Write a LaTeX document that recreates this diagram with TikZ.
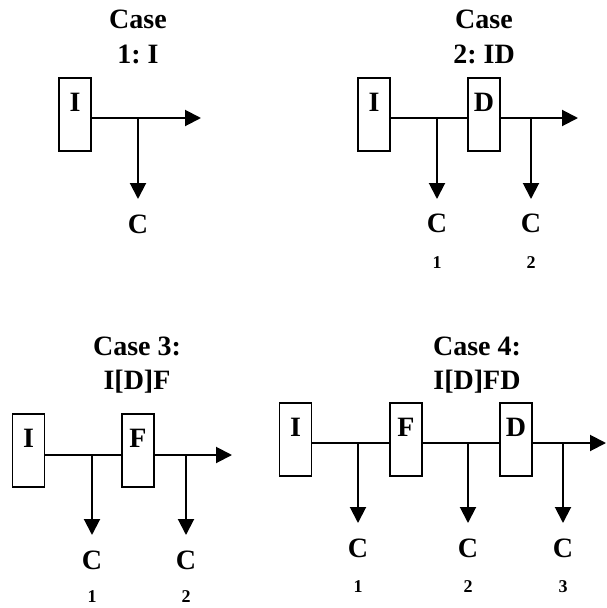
\documentclass[tikz,border=0pt]{standalone}
\usepackage{fontspec}
\setmainfont{Liberation Serif}
\frenchspacing
\usetikzlibrary{arrows.meta}
\begin{document}
\begin{tikzpicture}[x=1pt,y=-1pt,
  txt/.style={font=\fontsize{28}{34}\selectfont\bfseries, inner sep=0pt, anchor=base},
  sub/.style={font=\fontsize{18}{22}\selectfont\bfseries, inner sep=0pt, anchor=base},
  box/.style={draw, line width=1.3pt, minimum width=32pt, minimum height=73pt, inner sep=0pt, outer sep=0pt},
  boxlab/.style={font=\fontsize{28}{34}\selectfont\bfseries, inner sep=0pt, anchor=base, yshift=-33pt},
  flow/.style={line width=2pt},
  arr/.style={flow, -{Triangle[length=16pt,width=16pt]}}]
\path[use as bounding box, fill=white] (0,0) rectangle (606,608);

% ---------- Case 1 ----------
\node[txt] (t1a) at (138,28) {Case};
\node[txt] (t1b) at (138,63) {1: I};
\node[box, label={[boxlab]north:I}] (i1) at (75,114.5) {};
\coordinate (j1) at (138,118);
\coordinate (e1) at (201,118);
\coordinate (d1) at (138,199);
\node[txt] (c1) at (138,233) {C};
\draw[arr] (i1.east |- j1) -- (e1);
\draw[arr] (j1) -- (d1);

% ---------- Case 2 ----------
\node[txt] (t2a) at (484,28) {Case};
\node[txt] (t2b) at (484,63) {2: ID};
\node[box, label={[boxlab]north:I}] (i2) at (374,114.5) {};
\node[box, label={[boxlab]north:D}] (dd2) at (484,114.5) {};
\coordinate (j21) at (437,118);
\coordinate (j22) at (531,118);
\coordinate (e2) at (578,118);
\coordinate (d21) at (437,199);
\coordinate (d22) at (531,199);
\node[txt] (c21) at (437,232) {C};
\node[txt] (c22) at (531,232) {C};
\node[sub] (n21) at (437,268) {1};
\node[sub] (n22) at (531,268) {2};
\draw[flow] (i2.east |- j21) -- (dd2.west |- j21);
\draw[arr] (dd2.east |- j22) -- (e2);
\draw[arr] (j21) -- (d21);
\draw[arr] (j22) -- (d22);

% ---------- Case 3 ----------
\node[txt] (t3a) at (137,355) {Case 3:};
\node[txt] (t3b) at (137,389) {I[D]F};
\node[box, label={[boxlab]north:I}] (i3) at (28.5,450.5) {};
\node[box, label={[boxlab]north:F}] (f3) at (138,450.5) {};
\coordinate (j31) at (92,455);
\coordinate (j32) at (186,455);
\coordinate (e3) at (232,455);
\coordinate (d31) at (92,535);
\coordinate (d32) at (186,535);
\node[txt] (c31) at (92,569) {C};
\node[txt] (c32) at (186,569) {C};
\node[sub] (n31) at (92,602) {1};
\node[sub] (n32) at (186,602) {2};
\draw[flow] (i3.east |- j31) -- (f3.west |- j31);
\draw[arr] (f3.east |- j32) -- (e3);
\draw[arr] (j31) -- (d31);
\draw[arr] (j32) -- (d32);

% ---------- Case 4 ----------
\node[txt] (t4a) at (477,355) {Case 4:};
\node[txt] (t4b) at (477,389) {I[D]FD};
\node[box, label={[boxlab]north:I}] (i4) at (295.5,439.5) {};
\node[box, label={[boxlab]north:F}] (f4) at (406,439.5) {};
\node[box, label={[boxlab]north:D}] (dd4) at (516,439.5) {};
\coordinate (j41) at (358,443);
\coordinate (j42) at (468,443);
\coordinate (j43) at (563,443);
\coordinate (e4) at (606,443);
\coordinate (d41) at (358,523);
\coordinate (d42) at (468,523);
\coordinate (d43) at (563,523);
\node[txt] (c41) at (358,557) {C};
\node[txt] (c42) at (468,557) {C};
\node[txt] (c43) at (563,557) {C};
\node[sub] (n41) at (358,592) {1};
\node[sub] (n42) at (468,592) {2};
\node[sub] (n43) at (563,592) {3};
\draw[flow] (i4.east |- j41) -- (f4.west |- j41);
\draw[flow] (f4.east |- j42) -- (dd4.west |- j42);
\draw[arr] (dd4.east |- j43) -- (e4);
\draw[arr] (j41) -- (d41);
\draw[arr] (j42) -- (d42);
\draw[arr] (j43) -- (d43);
\end{tikzpicture}
\end{document}
